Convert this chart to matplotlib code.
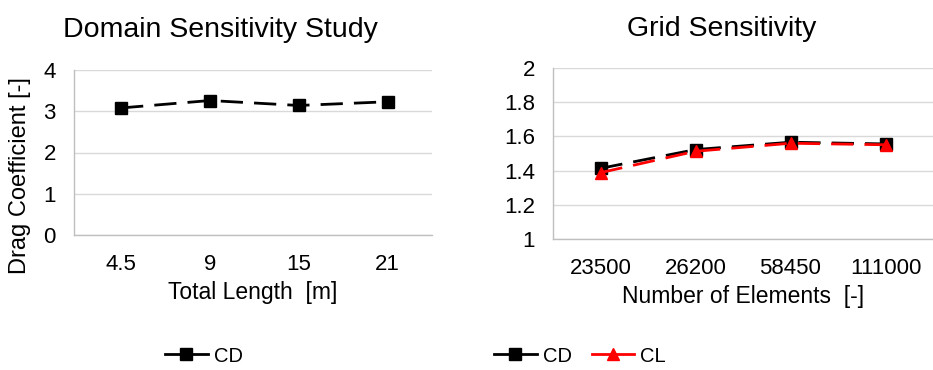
import matplotlib
matplotlib.use("Agg")
import matplotlib.pyplot as plt
from matplotlib.lines import Line2D

plt.rcParams['font.family'] = ['Liberation Sans', 'DejaVu Sans']

# Data
length_labels = ["4.5", "9", "15", "21"]
cd_domain = [3.08, 3.26, 3.14, 3.23]

element_labels = ["23500", "26200", "58450", "111000"]
cd_grid = [1.413, 1.523, 1.566, 1.556]
cl_grid = [1.388, 1.513, 1.560, 1.551]

GRID_C = "#d9d9d9"
SPINE_C = "#bfbfbf"

fig = plt.figure(figsize=(9.33, 3.70), dpi=100)
W, H = 933, 370

def add_ax(l, r, t, b):
    return fig.add_axes([l / W, 1 - b / H, (r - l) / W, (b - t) / H])

ax1 = add_ax(74, 432, 70, 235)
ax2 = add_ax(553, 933, 68, 239)

def style(ax):
    for s in ["top", "right"]:
        ax.spines[s].set_visible(False)
    for s in ["left", "bottom"]:
        ax.spines[s].set_color(SPINE_C)
        ax.spines[s].set_linewidth(1.0)
    ax.yaxis.grid(True, color=GRID_C, linewidth=1.0)
    ax.set_axisbelow(True)
    ax.tick_params(axis="both", length=0, labelsize=16, colors="#000000")
    ax.tick_params(axis="x", pad=14)
    ax.tick_params(axis="y", pad=13)

style(ax1)
x1 = list(range(len(length_labels)))
ax1.plot(x1, cd_domain, color="black", lw=2.0, dashes=(8, 4),
         marker="s", markersize=9, label="CD")
ax1.set_xlim(-0.53, 3.5)
ax1.set_ylim(0, 4)
ax1.set_yticks([0, 1, 2, 3, 4])
ax1.set_xticks(x1)
ax1.set_xticklabels(length_labels)
ax1.set_xlabel("Total Length  [m]", fontsize=16.5, labelpad=4)

style(ax2)
x2 = list(range(len(element_labels)))
ax2.plot(x2, cd_grid, color="black", lw=2.0, dashes=(8, 4),
         marker="s", markersize=9, label="CD")
ax2.plot(x2, cl_grid, color="#ff0000", lw=2.0, dashes=(8, 4),
         marker="^", markersize=9, label="CL")
ax2.set_xlim(-0.5, 3.5)
ax2.set_ylim(1, 2)
ax2.set_yticks([1, 1.2, 1.4, 1.6, 1.8, 2])
ax2.set_yticklabels(["1", "1.2", "1.4", "1.6", "1.8", "2"])
ax2.set_xticks(x2)
ax2.set_xticklabels(element_labels)
ax2.set_xlabel("Number of Elements  [-]", fontsize=16.5, labelpad=4)

# Titles (centered over each chart area, not the plot area)
fig.text(220 / W, 1 - 37 / H, "Domain Sensitivity Study", fontsize=20.5,
         ha="center", va="baseline")
fig.text(722 / W, 1 - 36 / H, "Grid Sensitivity", fontsize=20.5,
         ha="center", va="baseline")

# Y label
fig.text(20 / W, 1 - 176 / H, "Drag Coefficient [-]", fontsize=17,
         rotation=90, ha="center", va="center")

h_cd = Line2D([], [], color="black", lw=2.0, marker="s", markersize=8)
h_cl = Line2D([], [], color="#ff0000", lw=2.0, marker="^", markersize=8)

fig.legend([h_cd], ["CD"], loc="center", bbox_to_anchor=(204 / W, 1 - 356 / H),
           frameon=False, fontsize=14.5, handlelength=2.1, handletextpad=0.3)
fig.legend([h_cd, h_cl], ["CD", "CL"], loc="center", bbox_to_anchor=(580 / W, 1 - 356 / H),
           frameon=False, fontsize=14.5, handlelength=2.1, handletextpad=0.3,
           ncol=2, columnspacing=1.0)

fig.savefig("out.png", dpi=100)
